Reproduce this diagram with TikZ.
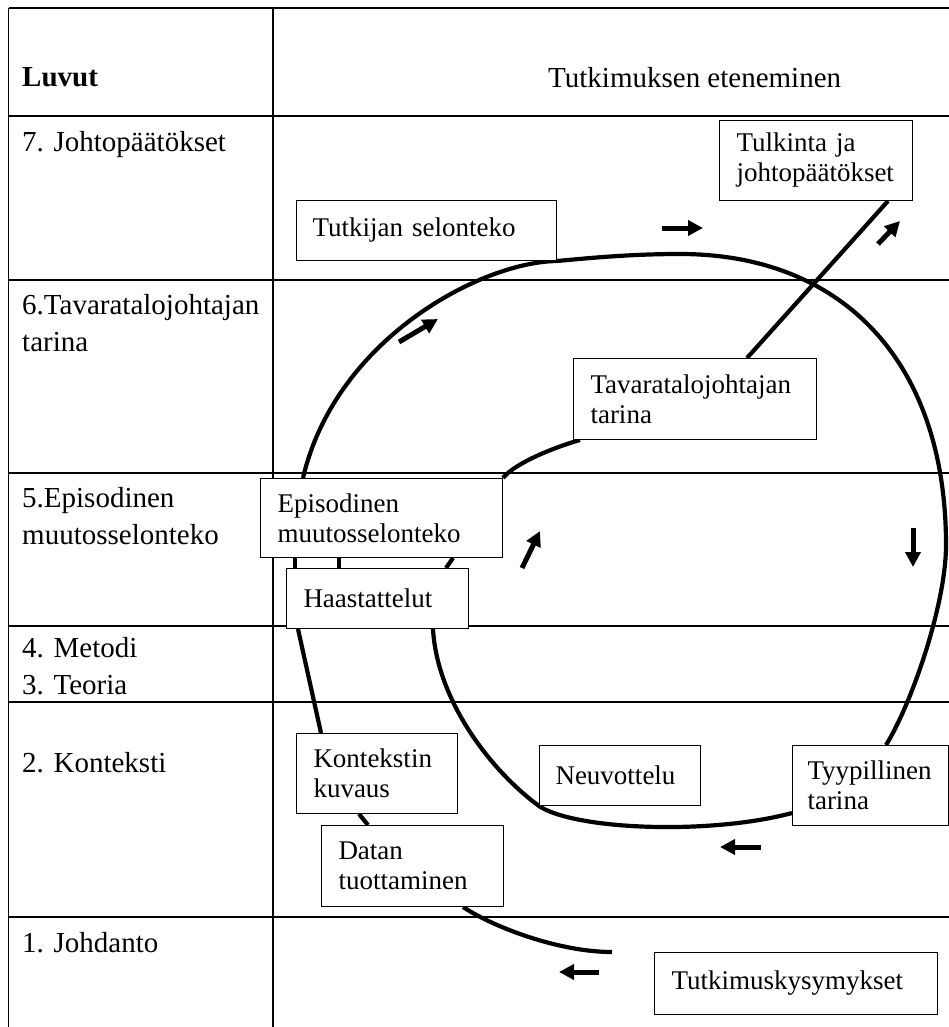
\documentclass[tikz,border=0pt]{standalone}
\usepackage{fontspec}
\setmainfont{Liberation Serif}
\usetikzlibrary{arrows.meta}
\pgfdeclarelayer{back}
\pgfsetlayers{back,main}

\begin{document}
\begin{tikzpicture}[x=1pt,y=-1pt,
  box/.style={draw,line width=1pt,fill=white,anchor=north west,inner xsep=17pt,inner ysep=0pt,align=left,font=\fontsize{27}{30}\selectfont},
  lab/.style={anchor=north west,inner sep=0pt,align=left,font=\fontsize{29}{37}\selectfont},
  grid/.style={line width=1.6pt},
  flow/.style={line width=4.2pt},
  dir/.style={line width=5pt,-{Triangle[width=15pt,length=15pt]}}]
\useasboundingbox (0,0) rectangle (949,1027);

\node[lab] (luvut) at (22,67) {\textbf{Luvut}};
\node[lab] (eten) at (548,67) {Tutkimuksen eteneminen};
\node[lab] (l7) at (22,131) {7. Johtopäätökset};
\node[lab] (l6) at (22,294) {6.Tavaratalojohtajan\\tarina};
\node[lab] (l5) at (22,487) {5.Episodinen\\muutosselonteko};
\node[lab] (l43) at (22,637) {4. Metodi\\3. Teoria};
\node[lab] (l2) at (22,752) {2. Konteksti};
\node[lab] (l1) at (22,932) {1. Johdanto};

\node[box,text width=159pt,minimum height=80pt] (tulk) at (719,120) {Tulkinta ja\\johtopäätökset};
\node[box,text width=228pt,minimum height=60pt,inner xsep=16pt] (tutk) at (296,200) {Tutkijan selonteko};
\node[box,text width=209pt,minimum height=81pt] (tava) at (573,358) {Tavaratalojohtajan\\tarina};
\node[box,text width=208pt,minimum height=79pt] (epis) at (260,478) {Episodinen\\muutosselonteko};
\node[box,text width=148pt,minimum height=60pt] (haas) at (286,568) {Haastattelut};
\node[box,text width=127pt,minimum height=80pt] (kont) at (296,733) {Kontekstin\\kuvaus};
\node[box,text width=148pt,minimum height=81pt] (datan) at (321,825) {Datan\\tuottaminen};
\node[box,text width=129pt,minimum height=60pt,inner xsep=16pt] (neuv) at (539,745) {Neuvottelu};
\node[box,text width=126pt,minimum height=80pt,inner xsep=15pt] (tyyp) at (792,745) {Tyypillinen\\tarina};
\node[box,text width=249pt,minimum height=62pt] (kysy) at (654,952) {Tutkimuskysymykset};
\coordinate (kend) at (612,952);

\begin{pgfonlayer}{back}
\draw[grid] (8.5,8) -- (8.5,1027) (273,8) -- (273,1027);
\foreach \y in {8,116,280,473,626,702,917}
  \draw[grid] (8.5,\y) -- (949,\y);
\draw[flow] ([xshift=94pt]tyyp.north west) .. controls (911,705) and (946,605) .. (946,545)
  .. controls (946,362) and (843,254) .. (680,254)
  .. controls (630,254) and (590,258) .. (tutk.south east)
  .. controls (480,262) and (335,340) .. ([xshift=43pt]epis.north west);
\draw[flow] ([xshift=35pt]epis.south west) -- ([xshift=9pt]haas.north west);
\draw[flow] ([xshift=79pt]epis.south west) -- ([xshift=53pt]haas.north west);
\draw[flow] ([xshift=12pt]haas.south west) -- ([xshift=25pt]kont.north west);
\draw[flow] ([xshift=63pt]kont.south west) -- ([xshift=47pt]datan.north west);
\draw[flow] ([xshift=142pt]datan.south west) .. controls (495,928) and (560,952) .. (kend);
\draw[flow] ([xshift=169pt]tulk.south west) -- ([xshift=174pt]tava.north west);
\draw[flow] ([xshift=7pt]tava.south west) .. controls (555,447) and (515,463) .. (epis.north east);
\draw[flow] ([xshift=193pt]epis.south west) -- ([xshift=160pt]haas.north west);
\draw[flow] ([xshift=147pt]haas.south west) .. controls (437,700) and (490,770) .. (neuv.south west)
  .. controls (575,830) and (710,835) .. ([yshift=13pt]tyyp.south west);
\end{pgfonlayer}

\draw[dir] (662,228) -- (703,228);
\draw[dir] (878,244) -- (900,221);
\draw[dir] (399,342) -- (438,319);
\draw[dir] (522,568) -- (540,531);
\draw[dir] (913,528) -- (913,567);
\draw[dir] (761,847) -- (720,847);
\draw[dir] (599,972) -- (559,972);
\end{tikzpicture}
\end{document}
